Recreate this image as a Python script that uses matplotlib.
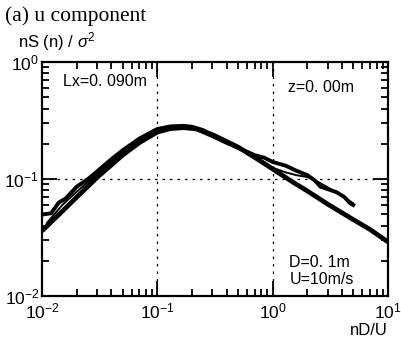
import numpy as np
import matplotlib
matplotlib.use("Agg")
import matplotlib.pyplot as plt
from matplotlib.ticker import LogLocator, NullFormatter

police = "Liberation Sans"
plt.rcParams['font.family'] = [police, 'DejaVu Sans']
plt.rcParams['mathtext.fontset'] = 'custom'
plt.rcParams['mathtext.rm'] = police
plt.rcParams['mathtext.it'] = police + ':italic'

#__Données__ spectre théorique (trait plein)
x_theo = [0.01, 0.015, 0.02, 0.03, 0.05, 0.07, 0.1, 0.13, 0.17, 0.22, 0.3,
          0.5, 0.7, 1.0, 1.5, 2, 3, 5, 7, 10]
y_theo = [0.036, 0.053, 0.070, 0.103, 0.160, 0.205, 0.252, 0.270, 0.275, 0.268, 0.240,
          0.188, 0.153, 0.122, 0.094, 0.079, 0.061, 0.045, 0.037, 0.029]

# mesures 1
x_mes1 = [0.0105, 0.012, 0.014, 0.016, 0.02, 0.025, 0.03, 0.04, 0.05, 0.07, 0.1,
          0.13, 0.17, 0.2, 0.25, 0.3, 0.4, 0.5, 0.7, 0.85, 1.0, 1.3, 1.6, 2.0,
          2.3, 2.6, 3.0, 3.6, 4.2, 4.7, 5.0]
y_mes1 = [0.050, 0.051, 0.063, 0.068, 0.086, 0.100, 0.116, 0.148, 0.176, 0.222, 0.268,
          0.282, 0.285, 0.280, 0.262, 0.236, 0.205, 0.185, 0.160, 0.152, 0.140, 0.130,
          0.118, 0.108, 0.098, 0.086, 0.082, 0.077, 0.070, 0.062, 0.060]

# mesures 2
x_mes2 = [0.011, 0.015, 0.02, 0.03, 0.05, 0.07, 0.1, 0.15, 0.2, 0.3, 0.4, 0.5,
          0.7, 1.0, 1.3, 1.6, 2.0, 2.5, 3.0, 4.0, 5.0]
y_mes2 = [0.042, 0.060, 0.078, 0.110, 0.168, 0.212, 0.258, 0.276, 0.272, 0.228, 0.200,
          0.182, 0.157, 0.125, 0.114, 0.108, 0.104, 0.094, 0.085, 0.072, 0.062]

fig = plt.figure(figsize=(4.02, 3.49), dpi=100)
ax = fig.add_axes([0.1045, 0.152, 0.8605, 0.670])

ax.plot(x_mes2, y_mes2, color='black', lw=1.4)
ax.plot(x_mes1, y_mes1, color='black', lw=2.8)
ax.plot(x_theo, y_theo, color='black', lw=3.4, solid_capstyle='butt')

ax.set_xscale('log')
ax.set_yscale('log')
ax.set_xlim(1e-2, 1e1)
ax.set_ylim(1e-2, 1e0)

# grille pointillée
for xv in [0.1, 1.0]:
    ax.axvline(xv, color='black', lw=0.9, ls=(0, (2, 4)))
ax.axhline(0.1, color='black', lw=0.9, ls=(0, (2, 4)))

ax.xaxis.set_major_locator(LogLocator(base=10, numticks=10))
ax.yaxis.set_major_locator(LogLocator(base=10, numticks=10))
ax.xaxis.set_minor_locator(LogLocator(base=10, subs=np.arange(2, 10), numticks=20))
ax.yaxis.set_minor_locator(LogLocator(base=10, subs=np.arange(2, 10), numticks=20))
ax.xaxis.set_minor_formatter(NullFormatter())
ax.yaxis.set_minor_formatter(NullFormatter())
ax.tick_params(which='both', direction='in', top=True, right=True, width=1.3)
ax.tick_params(which='major', length=11, labelsize=12.5, pad=2)
ax.tick_params(axis='x', which='major', pad=4)
ax.tick_params(which='minor', length=5)
for s in ax.spines.values():
    s.set_linewidth(1.6)

ax.set_xlabel("nD/U", fontsize=12, loc='right', labelpad=1)

ax.text(0.06, 0.915, "Lx=0. 090m", transform=ax.transAxes, fontsize=11.5, va='center')
ax.text(0.71, 0.89, "z=0. 00m", transform=ax.transAxes, fontsize=11.5, va='center')
ax.text(0.715, 0.145, "D=0. 1m", transform=ax.transAxes, fontsize=11.5, va='center')
ax.text(0.715, 0.07, "U=10m/s", transform=ax.transAxes, fontsize=11.5, va='center')

fig.text(0.012, 0.953, "(a) u component", family='Liberation Serif', fontsize=15.5, va='center')
fig.text(0.045, 0.882, r"nS (n) / $\sigma^2$", fontsize=12, va='center')

fig.savefig("out.png", dpi=100)
